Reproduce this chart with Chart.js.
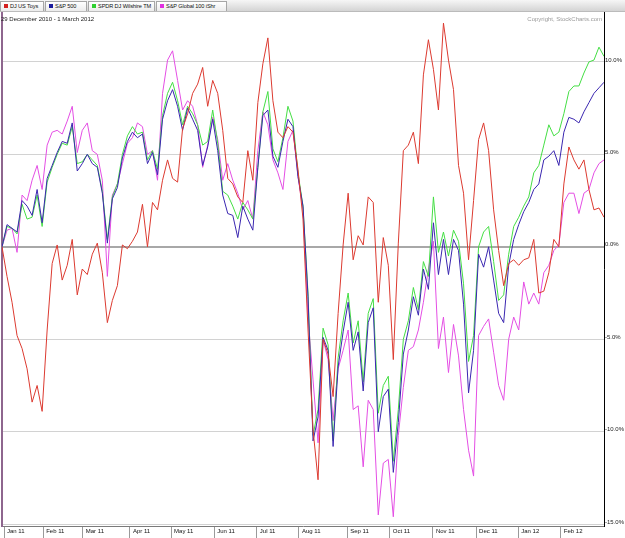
<!DOCTYPE html>
<html>
<head>
<meta charset="utf-8">
<script src="https://cdn.jsdelivr.net/npm/chart.js@4.4.1/dist/chart.umd.min.js"></script>
<style>
    body { margin: 0; background: #fff; }
    #wrap { position: relative; width: 625px; height: 538px; overflow: hidden; font-family: "Liberation Sans", Arial, sans-serif; }
    #head { position: absolute; left: 0; top: 0; width: 625px; height: 11px; background: linear-gradient(#f6f6f6, #d4d4d4); border-bottom: 1px solid #bbb; }
    .tab { position: absolute; top: 1px; height: 10px; background: linear-gradient(#fff, #ececec); border: 1px solid #a6a6a6; border-bottom: none; font-size: 5.6px; letter-spacing: -0.1px; line-height: 9px; color: #111; white-space: nowrap; overflow: hidden; box-sizing: border-box; padding-left: 9px; }
    .tab i { position: absolute; left: 3px; top: 2px; width: 4px; height: 4px; }
    #range { position: absolute; left: 1px; top: 16px; font-size: 6px; color: #222; }
    #copy { position: absolute; right: 23px; top: 16px; font-size: 6px; color: #9a9a9a; }
</style>
</head>
<body>
<div id="wrap">
    <canvas id="perfChart" width="625" height="538"></canvas>
    <div id="head">
        <div class="tab" style="left:0;width:44px"><i style="background:#d42020"></i>DJ US Toys</div>
        <div class="tab" style="left:45px;width:42px"><i style="background:#1c1c9c"></i>S&amp;P 500</div>
        <div class="tab" style="left:88px;width:67px"><i style="background:#30d030"></i>SPDR DJ Wilshire TM</div>
        <div class="tab" style="left:156px;width:71px"><i style="background:#e030e0"></i>S&amp;P Global 100 iShr</div>
    </div>
    <div id="range">29 December 2010 - 1 March 2012</div>
    <div id="copy">Copyright, StockCharts.com</div>
</div>
<script>
// % change since 29 Dec 2010, one value every ~2.5 trading days
const toys = [0.0,-1.6,-3.0,-4.8,-5.5,-6.6,-8.4,-7.5,-8.9,-4.5, -0.9,0.1,-1.8,-1.0,0.4,-2.6,-1.2,-1.5,-0.4,0.2,
    -1.4,-4.1,-2.9,-2.1,0.1,-0.1,0.3,0.8,2.3,0.0, 2.4,2.0,3.6,4.7,3.7,3.5,6.4,7.2,8.3,8.8,
    9.7,7.6,9.0,8.3,6.3,3.7,3.4,2.7,2.4,5.2, 3.6,7.8,9.9,11.3,7.9,6.2,5.9,6.5,6.2,4.2,
    1.5,-4.5,-9.9,-12.6,-5.0,-5.8,-8.1,-3.6,0.1,2.9, -0.7,0.6,0.1,2.7,2.4,-3.0,0.5,-1.0,-6.1,0.2,
    5.2,5.5,6.2,4.5,9.3,11.2,9.6,7.4,12.1,10.1, 8.5,4.4,2.9,-0.7,2.5,5.8,6.7,5.2,2.0,-0.2,
    -2.1,-0.9,-0.7,-1.0,-0.7,-0.6,0.4,-2.5,-2.4,-1.4, 0.4,0.0,3.4,5.4,4.7,4.2,4.7,3.1,2.0,2.1,
    1.6];
const sp500 = [0.0,1.2,1.0,0.8,2.5,2.2,1.7,3.1,1.3,3.7, 4.4,5.1,5.7,5.6,6.7,4.1,4.5,5.0,4.5,4.3,
    2.9,0.2,2.6,3.2,4.8,5.7,6.2,5.9,6.1,4.5, 5.1,3.9,6.9,7.9,8.5,7.6,6.3,7.5,6.9,6.3,
    4.4,5.4,6.9,5.2,2.8,1.8,1.7,0.5,2.2,1.5, 0.9,4.3,7.1,7.4,4.9,4.3,5.7,6.9,6.5,3.8,
    2.2,-2.7,-10.5,-9.2,-4.9,-5.6,-10.8,-6.5,-4.6,-3.0, -5.6,-4.6,-7.8,-4.1,-3.3,-10.0,-8.1,-7.7,-12.2,-9.5,
    -5.8,-4.5,-2.7,-3.7,-1.2,-2.3,1.3,-1.5,0.4,-1.5, 0.4,-0.2,-3.1,-7.9,-5.6,-0.4,-1.1,0.0,-1.8,-3.6,
    -4.1,-1.0,0.4,1.2,1.9,2.4,3.1,3.4,4.7,4.9, 5.2,4.4,6.2,7.0,6.9,6.7,7.3,7.8,8.3,8.6,
    8.9];
const wilshire = [0.0,1.1,1.0,0.7,2.3,1.5,1.6,2.8,1.1,3.5, 4.3,5.0,5.6,5.5,6.5,4.5,4.6,5.0,4.7,4.4,
    3.0,0.4,2.7,3.4,5.0,6.0,6.5,6.1,6.2,4.7, 5.2,4.2,7.1,8.3,8.9,7.9,6.6,7.6,7.2,6.6,
    5.5,5.7,7.4,5.6,3.0,2.8,2.2,1.5,2.4,2.0, 1.5,4.3,7.3,8.4,5.3,4.6,5.9,7.6,6.8,4.0,
    2.2,-2.5,-10.2,-8.8,-4.4,-5.3,-10.5,-6.0,-4.0,-2.5, -5.2,-4.0,-7.3,-3.6,-2.8,-9.0,-7.5,-7.0,-11.6,-8.8,
    -5.0,-4.0,-2.2,-3.4,-0.8,-1.6,2.7,-0.3,0.8,-0.5, 0.9,0.3,-2.0,-6.2,-4.8,0.0,0.8,1.1,-0.8,-2.9,
    -2.6,-0.4,1.1,1.6,2.2,2.7,4.0,4.4,5.5,6.6, 6.0,6.2,7.2,8.4,8.7,8.7,9.4,10.0,10.1,10.8,
    10.3];
const global100 = [0.0,0.9,1.0,-0.3,2.8,2.5,3.6,4.4,3.1,5.5, 6.2,6.3,6.1,6.8,7.6,5.1,6.3,6.7,5.2,5.0,
    3.6,-1.6,2.8,3.4,4.5,5.6,5.9,6.7,6.5,5.0, 5.2,3.6,8.3,10.1,10.6,9.0,7.4,7.9,7.6,6.6,
    4.3,5.5,7.0,5.8,3.6,4.5,3.6,2.9,2.0,2.5, 1.5,5.2,7.3,6.6,4.7,4.0,3.1,5.7,6.3,3.8,
    2.0,-3.8,-7.2,-10.6,-5.0,-6.1,-9.4,-6.6,-5.6,-4.5, -8.8,-8.6,-11.9,-8.3,-8.8,-14.5,-11.7,-11.5,-14.6,-10.2,
    -7.6,-5.6,-5.4,-4.5,-3.0,-1.2,0.3,-5.5,-3.8,-6.8, -4.2,-5.9,-8.8,-11.0,-12.4,-4.8,-4.3,-3.9,-5.7,-7.5,
    -8.3,-5.0,-3.8,-4.5,-1.9,-3.1,-2.5,-3.1,-1.4,-1.0, -0.2,0.1,2.4,2.9,2.9,1.8,2.9,3.1,4.0,4.5,
    4.7];

const monthLabels = ['Jan 11', 'Feb 11', 'Mar 11', 'Apr 11', 'May 11', 'Jun 11', 'Jul 11',
    'Aug 11', 'Sep 11', 'Oct 11', 'Nov 11', 'Dec 11', 'Jan 12', 'Feb 12'];
// first trading day of each month, on the same index as the series
const monthStarts = [0.4, 8.2, 16.1, 25.5, 33.7, 42.3, 50.8, 59.2, 68.8, 77.3, 85.9, 94.5, 102.9, 111.4];
const pctTicks = [-15, -10, -5, 0, 5, 10];

const idx = toys.map((v, i) => i);
const tickFont = { family: 'Liberation Sans', size: 6 };

function line(label, values, color) {
    return {
        label: label,
        data: values,
        borderColor: color,
        borderWidth: 1,
        pointRadius: 0,
        tension: 0,
        fill: false
    };
}

new Chart(document.getElementById('perfChart').getContext('2d'), {
    type: 'line',
    data: {
        labels: idx,
        datasets: [
            line('DJ US Toys', toys, '#dc3a30'),
            line('S&P 500', sp500, '#3a26b0'),
            line('SPDR DJ Wilshire TM', wilshire, '#44de44'),
            line('S&P Global 100 iShr', global100, '#e44ee4')
        ]
    },
    options: {
        responsive: false,
        animation: false,
        layout: { padding: { top: 12, left: 0, right: 0, bottom: 0 } },
        plugins: {
            legend: { display: false },
            tooltip: { enabled: false }
        },
        scales: {
            x: {
                type: 'linear',
                min: 0,
                max: idx.length - 1,
                afterBuildTicks: s => { s.ticks = monthStarts.map(v => ({ value: v })); },
                afterFit: s => { s.height = 12; },
                grid: { drawOnChartArea: false, drawTicks: true, tickLength: 12, color: '#9a9a9a' },
                border: { color: '#7a7a7a', width: 1 },
                ticks: {
                    autoSkip: false,
                    maxRotation: 0,
                    align: 'start',
                    labelOffset: 3,
                    padding: -10,
                    color: '#111',
                    font: tickFont,
                    callback: (v, i) => monthLabels[i]
                }
            },
            y: {
                position: 'right',
                min: -15.1,
                max: 12.7,
                afterBuildTicks: s => { s.ticks = pctTicks.map(v => ({ value: v })); },
                afterFit: s => { s.width = 21; },
                grid: {
                    drawTicks: false,
                    color: c => c.tick && c.tick.value === 0 ? '#a8a8a8' : '#d2d2d2',
                    lineWidth: c => c.tick && c.tick.value === 0 ? 2 : 1
                },
                border: { color: '#000', width: 1 },
                ticks: {
                    padding: 1,
                    labelOffset: -2,
                    color: '#222',
                    font: tickFont,
                    callback: v => v.toFixed(1) + '%'
                }
            },
            edge: {
                position: 'left',
                afterFit: s => { s.width = 2; },
                grid: { display: false },
                ticks: { display: false },
                border: { color: '#8e668e', width: 2 }
            }
        }
    }
});
</script>
</body>
</html>
